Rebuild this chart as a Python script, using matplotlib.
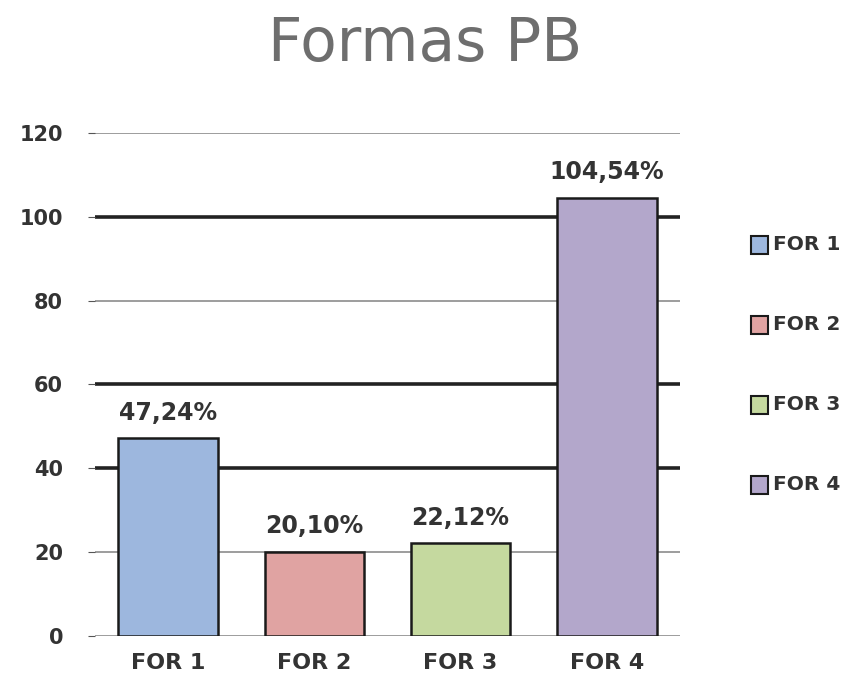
import numpy as np
import matplotlib.pyplot as plt

categories = ["FOR 1", "FOR 2", "FOR 3", "FOR 4"]
values = [47.24, 20.10, 22.12, 104.54]
value_labels = ["47,24%", "20,10%", "22,12%", "104,54%"]
colors = ["#9db7de", "#e0a3a2", "#c5d99f", "#b3a7cb"]
yticks = [0, 20, 40, 60, 80, 100, 120]
dark_grid = [40, 60, 100]

fig = plt.figure(figsize=(8.51, 6.84), dpi=100)
ax = fig.add_axes([0.1116, 0.0702, 0.6874, 0.7354])

x = np.arange(len(categories))
ax.set_xlim(-0.5, len(categories) - 0.5)
ax.set_ylim(0, 120)

for t in yticks:
    if t in dark_grid:
        ax.axhline(t, color="#222222", lw=2.6, zorder=0)
    else:
        ax.axhline(t, color="#8c8c8c", lw=1.2, zorder=0)

bars = ax.bar(x, values, width=0.68, color=colors, edgecolor="#1a1a1a",
              linewidth=1.8, zorder=2)

for b, lab in zip(bars, value_labels):
    ax.text(b.get_x() + b.get_width() / 2, b.get_height() + 3.2, lab,
            ha="center", va="bottom", fontsize=17, color="#333333",
            fontweight="bold")

for s in ax.spines.values():
    s.set_visible(False)
ax.set_yticks(yticks)
ax.set_yticklabels([str(t) for t in yticks], fontsize=15, fontweight="bold",
                   color="#333333")
ax.tick_params(axis="y", length=5, color="#555555", pad=18)
ax.set_xticks(x)
ax.set_xticklabels(categories, fontsize=16, fontweight="bold", color="#333333")
ax.tick_params(axis="x", length=0, pad=12)

fig.text(0.5, 0.935, "Formas PB", ha="center", va="center", fontsize=43,
         color="#6e6e6e")

legend_y = [0.642, 0.525, 0.408, 0.291]
for yy, c, lab in zip(legend_y, colors, categories):
    fig.patches.append(plt.Rectangle((0.883, yy - 0.013), 0.02, 0.026,
                                     transform=fig.transFigure, facecolor=c,
                                     edgecolor="#1a1a1a", lw=1.5))
    fig.text(0.908, yy, lab, ha="left", va="center", fontsize=14.5,
             fontweight="bold", color="#333333")

fig.savefig("out.png", dpi=100)
